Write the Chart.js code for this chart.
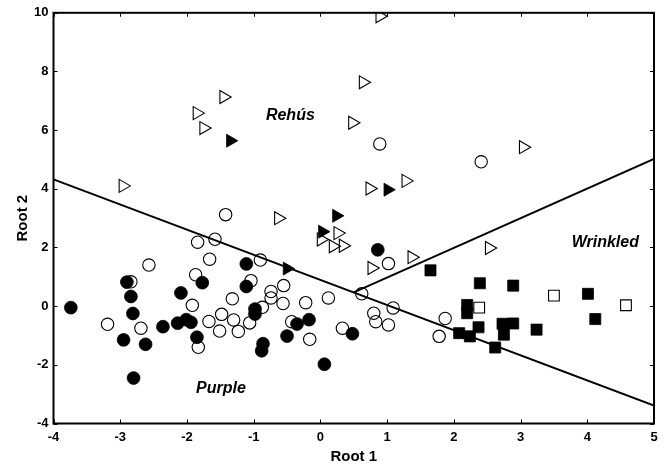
<!DOCTYPE html>
<html>
<head>
<meta charset="utf-8">
<script src="https://cdn.jsdelivr.net/npm/chart.js@4/dist/chart.umd.min.js"></script>
<style>
  html, body { margin: 0; padding: 0; background: #fff; }
  #wrap { width: 669px; height: 468px; position: relative; }
</style>
</head>
<body>
<div id="wrap"><canvas id="c" width="669" height="468"></canvas></div>
<script>
// ---- data ----
const openTriangles = [
  [0.89, 9.88], [0.64, 7.63], [-1.45, 7.13], [-1.85, 6.58], [-1.75, 6.07], [0.48, 6.25],
  [3.04, 5.42], [-2.96, 4.10], [0.74, 4.01], [1.28, 4.27], [-0.63, 3.00], [0.26, 2.49],
  [0.01, 2.27], [0.19, 2.04], [0.34, 2.06], [1.37, 1.67], [0.77, 1.30], [2.53, 1.98]
];
const filledTriangles = [
  [-1.35, 5.64], [1.01, 3.97], [0.24, 3.08], [0.03, 2.54], [-0.50, 1.28]
];
const openCircles = [
  [0.89, 5.53], [2.41, 4.92], [-1.42, 3.12], [-1.84, 2.18], [-1.58, 2.28], [-1.66, 1.60],
  [-0.90, 1.57], [-2.57, 1.40], [-1.87, 1.07], [-1.04, 0.87], [1.02, 1.45], [-2.84, 0.83],
  [-0.55, 0.70], [-0.74, 0.50], [-0.74, 0.28], [-1.32, 0.25], [0.12, 0.28], [0.62, 0.42],
  [-1.92, 0.03], [-0.56, 0.09], [-0.22, 0.12], [-0.87, -0.04], [1.09, -0.06], [-3.19, -0.62],
  [-2.69, -0.75], [-1.67, -0.52], [-1.48, -0.28], [-1.30, -0.47], [-1.06, -0.57], [-1.51, -0.85],
  [-1.23, -0.86], [-0.43, -0.53], [0.33, -0.75], [0.80, -0.24], [0.83, -0.53], [1.02, -0.64],
  [1.87, -0.42], [1.78, -1.03], [-0.16, -1.13], [-1.83, -1.40]
];
const filledCircles = [
  [-3.74, -0.05], [-2.90, 0.82], [-2.84, 0.33], [-2.81, -0.25], [-2.95, -1.15], [-2.62, -1.30],
  [-2.80, -2.45], [-2.36, -0.70], [-2.09, 0.45], [-2.14, -0.58], [-2.01, -0.46], [-1.94, -0.55],
  [-1.77, 0.80], [-1.85, -1.06], [-1.11, 1.44], [-1.11, 0.67], [-0.98, -0.10], [-0.98, -0.27],
  [-0.86, -1.28], [-0.88, -1.52], [-0.50, -1.02], [-0.35, -0.61], [-0.17, -0.46], [0.48, -0.94],
  [0.06, -1.98], [0.86, 1.92]
];
const filledSquares = [
  [1.65, 1.22], [2.39, 0.78], [2.89, 0.70], [4.01, 0.42], [2.20, 0.04], [2.20, -0.24],
  [2.37, -0.72], [2.08, -0.92], [2.24, -1.03], [2.73, -0.60], [2.89, -0.59], [2.75, -0.97],
  [2.62, -1.41], [3.24, -0.80], [4.12, -0.44]
];
const openSquares = [
  [3.50, 0.36], [4.58, 0.03], [2.38, -0.05]
];
const boundaryA = [[-4, 4.32], [5, -3.39]];
const boundaryB = [[0.5, 0.47], [5, 5.02]];

const regionNames = ['Rehús', 'Wrinkled', 'Purple'];
const regionX = [-0.45, 4.27, -1.49];
const regionY = [6.51, 2.17, -2.81];

const xTickValues = [-4, -3, -2, -1, 0, 1, 2, 3, 4, 5];
const yTickValues = [-4, -2, 0, 2, 4, 6, 8, 10];
const xTitle = 'Root 1';
const yTitle = 'Root 2';

// ---- helpers ----
const toPts = arr => arr.map(p => ({ x: p[0], y: p[1] }));
const FONT = "'Liberation Sans', Arial, Helvetica, sans-serif";

function markerSet(data, style, filled, radius, rotation) {
  return {
    type: 'scatter',
    data: toPts(data),
    pointStyle: style,
    rotation: rotation || 0,
    pointRadius: radius,
    pointHoverRadius: radius,
    pointBackgroundColor: filled ? '#000' : 'rgba(0,0,0,0)',
    pointBorderColor: '#000',
    pointBorderWidth: filled ? 0.8 : 1.1,
    showLine: false
  };
}
function lineSet(data) {
  return {
    type: 'scatter',
    data: toPts(data),
    showLine: true,
    borderColor: '#000',
    borderWidth: 2,
    pointRadius: 0,
    pointHoverRadius: 0,
    fill: false
  };
}

const framePlugin = {
  id: 'framePlugin',
  afterDraw(chart) {
    const { ctx, chartArea: a, scales } = chart;
    const xs = scales.x, ys = scales.y;
    ctx.save();
    // region labels
    ctx.fillStyle = '#000';
    ctx.font = "italic bold 16px " + FONT;
    ctx.textAlign = 'center';
    ctx.textBaseline = 'middle';
    regionNames.forEach((t, i) => {
      ctx.fillText(t, xs.getPixelForValue(regionX[i]), ys.getPixelForValue(regionY[i]));
    });
    // inward ticks on all sides
    ctx.strokeStyle = '#000';
    ctx.lineWidth = 1;
    const tl = 4;
    xTickValues.forEach(v => {
      const px = Math.round(xs.getPixelForValue(v)) + 0.5;
      ctx.beginPath();
      ctx.moveTo(px, a.bottom); ctx.lineTo(px, a.bottom - tl);
      ctx.moveTo(px, a.top); ctx.lineTo(px, a.top + tl);
      ctx.stroke();
    });
    yTickValues.forEach(v => {
      const py = Math.round(ys.getPixelForValue(v)) + 0.5;
      ctx.beginPath();
      ctx.moveTo(a.left, py); ctx.lineTo(a.left + tl, py);
      ctx.moveTo(a.right, py); ctx.lineTo(a.right - tl, py);
      ctx.stroke();
    });
    // frame
    ctx.lineWidth = 2;
    ctx.strokeRect(a.left, a.top, a.right - a.left, a.bottom - a.top);
    ctx.restore();
  }
};

new Chart(document.getElementById('c'), {
  type: 'scatter',
  data: {
    datasets: [
      markerSet(filledCircles, 'circle', true, 6.4),
      markerSet(filledSquares, 'rect', true, 7.8),
      markerSet(filledTriangles, 'triangle', true, 7.5, 90),
      markerSet(openCircles, 'circle', false, 6.2),
      markerSet(openSquares, 'rect', false, 7.6),
      markerSet(openTriangles, 'triangle', false, 7.5, 90),
      lineSet(boundaryA),
      lineSet(boundaryB)
    ]
  },
  options: {
    responsive: false,
    animation: false,
    devicePixelRatio: 1,
    layout: { padding: { top: 10, right: 15, left: 0, bottom: 0 } },
    plugins: { legend: { display: false }, tooltip: { enabled: false } },
    scales: {
      x: {
        type: 'linear', min: -4, max: 5,
        afterBuildTicks: s => { s.ticks = xTickValues.map(v => ({ value: v })); },
        afterFit: s => { s.height = 44.5; },
        grid: { display: false, drawTicks: false },
        border: { display: false },
        ticks: { color: '#000', padding: 6, font: { family: FONT, size: 13, weight: 'bold' }, maxRotation: 0 },
        title: { display: true, text: xTitle, color: '#000', padding: { top: 0, bottom: 2 }, font: { family: FONT, size: 15, weight: 'bold' } }
      },
      y: {
        type: 'linear', min: -4, max: 10,
        afterBuildTicks: s => { s.ticks = yTickValues.map(v => ({ value: v })); },
        afterFit: s => { s.width = 53.5; },
        grid: { display: false, drawTicks: false },
        border: { display: false },
        ticks: { color: '#000', padding: 5, font: { family: FONT, size: 13, weight: 'bold' } },
        title: { display: true, text: yTitle, color: '#000', padding: { top: 14, bottom: 0 }, font: { family: FONT, size: 15, weight: 'bold' } }
      }
    }
  },
  plugins: [framePlugin]
});
</script>
</body>
</html>
